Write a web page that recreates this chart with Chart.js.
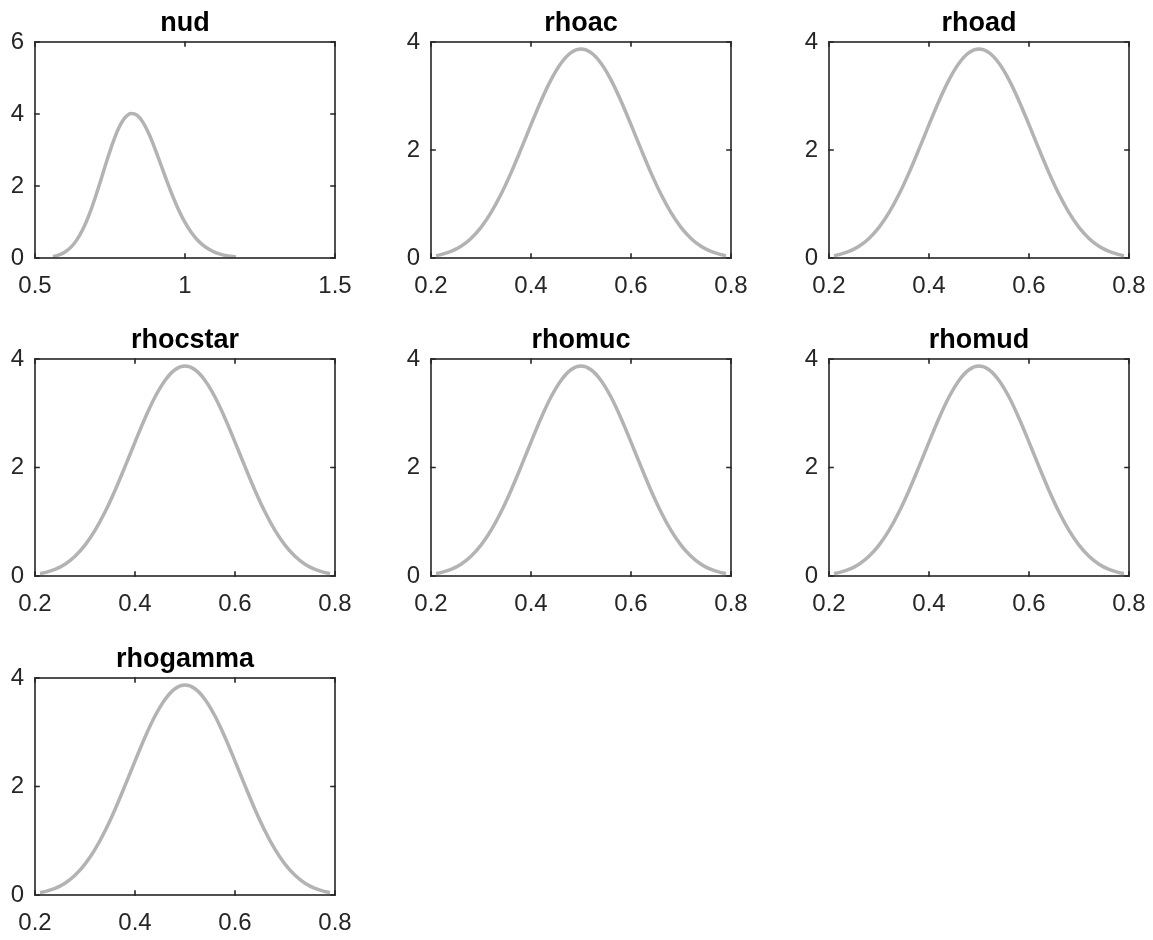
<!DOCTYPE html>
<html>
<head>
<meta charset="utf-8">
<title>Prior densities</title>
<script src="https://cdn.jsdelivr.net/npm/chart.js@4.4.1/dist/chart.umd.min.js"></script>
<style>
  html, body { margin: 0; padding: 0; background: #ffffff; }
  body { position: relative; width: 1153px; height: 940px; overflow: hidden; }
  canvas { position: absolute; }
</style>
</head>
<body>
<script>
// ---- data -------------------------------------------------------------
const panelTitles = ['nud', 'rhoac', 'rhoad', 'rhocstar', 'rhomuc', 'rhomud', 'rhogamma'];

// nud prior density
const nudGrid = [0.56, 0.58, 0.60, 0.62, 0.64, 0.66, 0.68, 0.70, 0.72, 0.74, 0.76, 0.78,
                 0.80, 0.82, 0.84, 0.86, 0.88, 0.90, 0.92, 0.94, 0.96, 0.98, 1.00, 1.02,
                 1.04, 1.06, 1.08, 1.10, 1.12, 1.14, 1.16, 1.17];
const nudDensity = [0.039, 0.084, 0.166, 0.302, 0.510, 0.805, 1.192, 1.659, 2.182, 2.716, 3.213, 3.623,
                    3.900, 4.017, 3.969, 3.767, 3.442, 3.034, 2.583, 2.128, 1.697, 1.313, 0.987, 0.721,
                    0.513, 0.356, 0.240, 0.159, 0.102, 0.065, 0.040, 0.031];

// persistence parameters share the same prior density
const rhoGrid = [0.21, 0.22, 0.24, 0.26, 0.28, 0.30, 0.32, 0.34, 0.36, 0.38, 0.40, 0.42, 0.44, 0.46, 0.48,
                 0.50, 0.52, 0.54, 0.56, 0.58, 0.60, 0.62, 0.64, 0.66, 0.68, 0.70, 0.72, 0.74, 0.76, 0.78, 0.79];
const rhoDensity = [0.043, 0.062, 0.121, 0.217, 0.363, 0.568, 0.840, 1.179, 1.576, 2.015, 2.469, 2.909, 3.299, 3.605, 3.802,
                    3.869, 3.802, 3.605, 3.299, 2.909, 2.469, 2.015, 1.576, 1.179, 0.840, 0.568, 0.363, 0.217, 0.121, 0.062, 0.043];

const nudXTicks = [0.5, 1, 1.5];
const rhoXTicks = [0.2, 0.4, 0.6, 0.8];
const nudYTicks = [0, 2, 4, 6];
const rhoYTicks = [0, 2, 4];

// ---- layout -----------------------------------------------------------
const colLeft = [35, 431, 829];
const rowTop = [42, 359, 678];
const rowHeight = [216, 217, 217];
const PLOT_W = 300;
const SIDE = 40, MARGIN_T = 42, MARGIN_B = 45;
const AXIS_COLOR = '#262626';
const CURVE_COLOR = '#b3b3b3';
const TICK_LEN = 4;
const FONT_FAMILY = "'Liberation Sans', Arial, sans-serif";

// box around the axes with inward ticks on all four sides
const axesFrame = {
  id: 'axesFrame',
  afterDatasetsDraw(chart) {
    const { ctx, chartArea: a, scales: { x, y } } = chart;
    ctx.save();
    ctx.strokeStyle = AXIS_COLOR;
    ctx.lineWidth = 1.6;
    ctx.lineCap = 'square';
    ctx.strokeRect(a.left, a.top, a.right - a.left, a.bottom - a.top);
    ctx.beginPath();
    x.ticks.forEach(t => {
      const px = x.getPixelForValue(t.value);
      ctx.moveTo(px, a.bottom); ctx.lineTo(px, a.bottom - TICK_LEN);
      ctx.moveTo(px, a.top); ctx.lineTo(px, a.top + TICK_LEN);
    });
    y.ticks.forEach(t => {
      const py = y.getPixelForValue(t.value);
      ctx.moveTo(a.left, py); ctx.lineTo(a.left + TICK_LEN, py);
      ctx.moveTo(a.right, py); ctx.lineTo(a.right - TICK_LEN, py);
    });
    ctx.stroke();
    ctx.restore();
  }
};

function makePanel(index, title, xs, ys, xTicks, yTicks) {
  const col = index % 3, row = Math.floor(index / 3);
  const canvas = document.createElement('canvas');
  const w = SIDE + PLOT_W + SIDE;
  const h = MARGIN_T + rowHeight[row] + MARGIN_B;
  canvas.width = w; canvas.height = h;
  canvas.style.width = w + 'px'; canvas.style.height = h + 'px';
  canvas.style.left = (colLeft[col] - SIDE) + 'px';
  canvas.style.top = (rowTop[row] - MARGIN_T) + 'px';
  document.body.appendChild(canvas);

  const tickFont = { family: FONT_FAMILY, size: 24 };
  new Chart(canvas, {
    type: 'line',
    data: {
      datasets: [{
        data: xs.map((v, i) => ({ x: v, y: ys[i] })),
        borderColor: CURVE_COLOR,
        borderWidth: 3.5,
        pointRadius: 0,
        cubicInterpolationMode: 'monotone',
        fill: false
      }]
    },
    options: {
      responsive: false,
      animation: false,
      devicePixelRatio: 1,
      layout: { padding: 0 },
      plugins: {
        legend: { display: false },
        tooltip: { enabled: false },
        title: {
          display: true,
          text: title,
          color: '#000000',
          font: { family: FONT_FAMILY, size: 27, weight: 'bold', lineHeight: 1.2 },
          padding: { top: 7, bottom: 2.6 }
        }
      },
      scales: {
        x: {
          type: 'linear',
          min: xTicks[0],
          max: xTicks[xTicks.length - 1],
          grid: { display: false, drawTicks: false },
          border: { display: false },
          afterBuildTicks: s => { s.ticks = xTicks.map(v => ({ value: v })); },
          afterFit: s => { s.height = MARGIN_B; },
          ticks: {
            autoSkip: false, maxRotation: 0, padding: 14,
            color: AXIS_COLOR, font: tickFont,
            callback: v => String(v)
          }
        },
        y: {
          type: 'linear',
          min: yTicks[0],
          max: yTicks[yTicks.length - 1],
          grid: { display: false, drawTicks: false },
          border: { display: false },
          afterBuildTicks: s => { s.ticks = yTicks.map(v => ({ value: v })); },
          afterFit: s => { s.width = SIDE; },
          ticks: {
            autoSkip: false, padding: 11,
            color: AXIS_COLOR, font: tickFont,
            callback: v => String(v)
          }
        },
        // empty right-hand strip so the title centres over the plot box
        yRight: {
          type: 'linear',
          position: 'right',
          min: yTicks[0],
          max: yTicks[yTicks.length - 1],
          grid: { display: false, drawTicks: false },
          border: { display: false },
          ticks: { display: false },
          afterFit: s => { s.width = SIDE; }
        }
      }
    },
    plugins: [axesFrame]
  });
}

panelTitles.forEach((t, i) => {
  if (t === 'nud') makePanel(i, t, nudGrid, nudDensity, nudXTicks, nudYTicks);
  else makePanel(i, t, rhoGrid, rhoDensity, rhoXTicks, rhoYTicks);
});
</script>
</body>
</html>
